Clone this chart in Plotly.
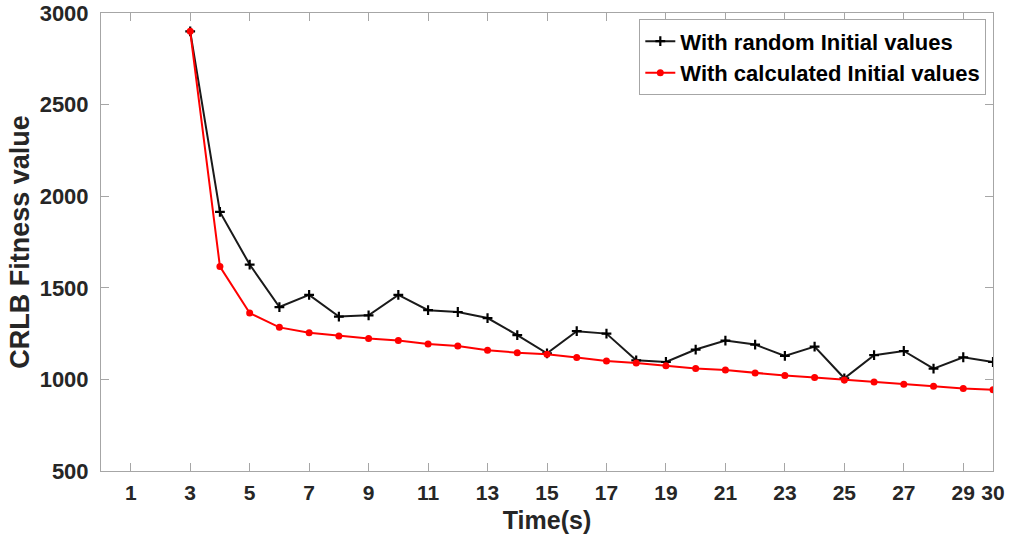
import plotly.graph_objects as go

time_s = list(range(3, 31))
random_init = [2900, 1914, 1627, 1395, 1461, 1343, 1350, 1461, 1378, 1368, 1335, 1242,
               1142, 1263, 1250, 1104, 1095, 1163, 1212, 1190, 1128, 1179, 1006, 1132,
               1155, 1059, 1121, 1095]
calc_init = [2900, 1616, 1362, 1284, 1255, 1237, 1223, 1212, 1193, 1182, 1159, 1146,
             1137, 1119, 1100, 1090, 1075, 1059, 1051, 1035, 1021, 1010, 997, 986,
             973, 962, 951, 944]
x_ticks = [1, 3, 5, 7, 9, 11, 13, 15, 17, 19, 21, 23, 25, 27, 29, 30]
y_ticks = [500, 1000, 1500, 2000, 2500, 3000]

FONT = "Liberation Sans, Arial, sans-serif"
AX = "#a6a6a6"

fig = go.Figure()
fig.add_trace(go.Scatter(
    x=time_s, y=random_init, mode="lines+markers", name="With random Initial values",
    line=dict(color="#1a1a1a", width=2),
    marker=dict(symbol="cross-thin", size=7, line=dict(color="#000000", width=2.2)),
))
fig.add_trace(go.Scatter(
    x=time_s, y=calc_init, mode="lines+markers", name="With calculated Initial values",
    line=dict(color="#ff0000", width=2),
    marker=dict(symbol="circle", size=7, color="#ff0000"),
))

fig.update_layout(
    width=1011, height=545,
    margin=dict(l=101, r=18, t=13, b=74, autoexpand=False),
    plot_bgcolor="white", paper_bgcolor="white",
    font=dict(family=FONT, color="#262626"),
    showlegend=True,
    legend=dict(
        x=0.9925, xanchor="right", y=0.986, yanchor="top",
        bgcolor="white", bordercolor=AX, borderwidth=1,
        font=dict(family=FONT, size=22, color="#000000", weight="bold"),
        tracegroupgap=0, itemwidth=30,
    ),
    xaxis=dict(
        range=[0, 30], tickmode="array", tickvals=x_ticks,
        ticktext=[str(v) for v in x_ticks], automargin=False,
        showgrid=False, zeroline=False,
        showline=True, linecolor=AX, linewidth=1, mirror="ticks",
        ticks="inside", ticklen=8, tickcolor=AX, tickwidth=1,
        ticklabelstandoff=3,
        tickfont=dict(family=FONT, size=21, color="#262626", weight="bold"),
        title=dict(text="Time(s)", font=dict(family=FONT, size=25, color="#262626", weight="bold"),
                   standoff=8),
    ),
    yaxis=dict(
        range=[500, 3000], tickmode="array", tickvals=y_ticks, automargin=False,
        showgrid=False, zeroline=False,
        showline=True, linecolor=AX, linewidth=1, mirror="ticks",
        ticks="inside", ticklen=8, tickcolor=AX, tickwidth=1,
        ticklabelstandoff=7,
        tickfont=dict(family=FONT, size=22, color="#262626", weight="bold"),
        title=dict(text="CRLB Fitness value", font=dict(family=FONT, size=27, color="#262626", weight="bold"),
                   standoff=2),
    ),
)

fig.write_html("out.html")
